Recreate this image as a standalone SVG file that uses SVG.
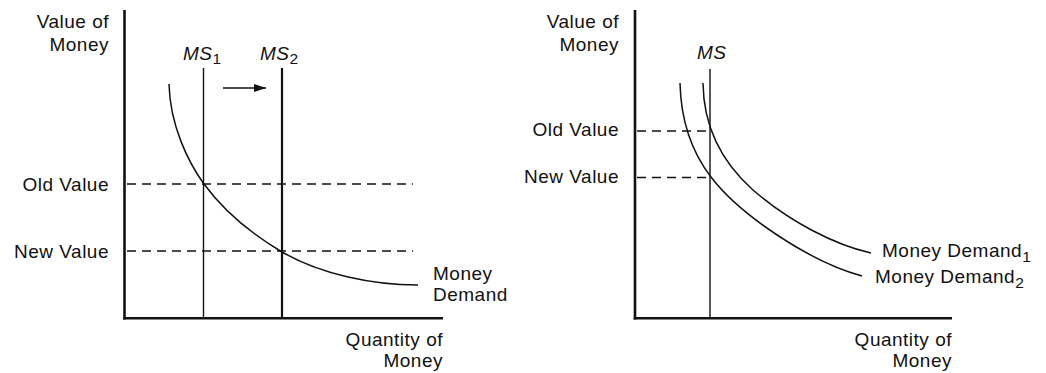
<svg xmlns="http://www.w3.org/2000/svg" width="1046" height="373" viewBox="0 0 1046 373">
  <style>
    .t { font-family: "Liberation Sans", Arial, sans-serif; font-size: 19px; letter-spacing: 0.5px; fill: #111; }
    .e { text-anchor: end; }
    .i { font-style: italic; }
    .sub { font-size: 15.5px; font-style: normal; }
    .axis { stroke: #111; stroke-width: 2.6; fill: none; }
    .ms { stroke: #111; stroke-width: 1.4; fill: none; }
    .ms2 { stroke: #111; stroke-width: 2.2; fill: none; }
    .curve { stroke: #111; stroke-width: 1.5; fill: none; }
    .dash { stroke: #111; stroke-width: 1.4; stroke-dasharray: 9 6; fill: none; }
    .arrow { stroke: #111; stroke-width: 1.6; fill: none; }
  </style>
  <defs>
    <marker id="head" markerUnits="userSpaceOnUse" markerWidth="12" markerHeight="8" refX="12" refY="4" orient="auto">
      <path d="M0,0 L12,4 L0,8 z" fill="#111"/>
    </marker>
  </defs>
  <rect width="1046" height="373" fill="#fff"/>

  <!-- Left panel -->
  <g id="left-axes">
    <line class="axis" x1="124.5" y1="10" x2="124.5" y2="319.5"/>
    <line class="axis" x1="123.2" y1="318.3" x2="443" y2="318.3"/>
    <text class="t e" x="109" y="28">Value of</text>
    <text class="t e" x="109" y="51">Money</text>
    <text class="t e" x="443" y="346">Quantity of</text>
    <text class="t e" x="443" y="367">Money</text>
  </g>
  <g id="left-levels">
    <line class="dash" x1="127" y1="184" x2="413" y2="184"/>
    <line class="dash" x1="127" y1="251" x2="413" y2="251"/>
    <text class="t e" x="109" y="191">Old Value</text>
    <text class="t e" x="109" y="258">New Value</text>
  </g>
  <g id="ms1">
    <line class="ms" x1="203.5" y1="68" x2="203.5" y2="318"/>
    <text class="t i" x="183" y="59.5">MS<tspan class="sub" dy="4">1</tspan></text>
  </g>
  <g id="ms2">
    <line class="ms2" x1="282" y1="68" x2="282" y2="318"/>
    <text class="t i" x="260" y="59.5">MS<tspan class="sub" dy="4">2</tspan></text>
  </g>
  <g id="money-demand">
    <path class="curve" d="M169,84 C170,125 188,162 204,184 C226,214 255,236 282,252 C320,274 372,285 418,285"/>
    <text class="t" x="433" y="280">Money</text>
    <text class="t" x="433" y="301">Demand</text>
  </g>
  <g id="connectors">
    <line class="arrow" x1="223" y1="88" x2="266" y2="88" marker-end="url(#head)"/>
  </g>

  <!-- Right panel -->
  <g id="right-axes">
    <line class="axis" x1="635" y1="10" x2="635" y2="319.5"/>
    <line class="axis" x1="633.7" y1="318.3" x2="952" y2="318.3"/>
    <text class="t e" x="619" y="28">Value of</text>
    <text class="t e" x="619" y="51">Money</text>
    <text class="t e" x="952" y="346">Quantity of</text>
    <text class="t e" x="952" y="367">Money</text>
  </g>
  <g id="right-levels">
    <line class="dash" x1="637" y1="131" x2="710" y2="131"/>
    <line class="dash" x1="637" y1="177.5" x2="710" y2="177.5"/>
    <text class="t e" x="619" y="135.5">Old Value</text>
    <text class="t e" x="619" y="183">New Value</text>
  </g>
  <g id="ms">
    <line class="ms" x1="710" y1="69" x2="710" y2="318"/>
    <text class="t i" x="697" y="59">MS</text>
  </g>
  <g id="money-demand-1">
    <path class="curve" d="M703,83 C703.5,132 725,165 753,190 C790,222 835,245 871,253"/>
    <text class="t" x="882" y="257">Money Demand<tspan class="sub" dy="4.5">1</tspan></text>
  </g>
  <g id="money-demand-2">
    <path class="curve" d="M680,83 C681,125 694,155 711,177 C740,215 810,262 862,276"/>
    <text class="t" x="875" y="283">Money Demand<tspan class="sub" dy="4.5">2</tspan></text>
  </g>
</svg>
